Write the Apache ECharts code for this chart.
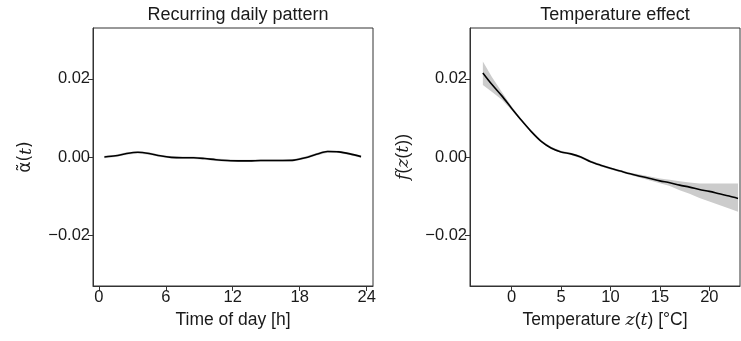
<!DOCTYPE html>
<html>
<head>
<meta charset="utf-8">
<script src="https://cdn.jsdelivr.net/npm/echarts@6/dist/echarts.min.js"></script>
<style>
  html, body { margin: 0; padding: 0; background: #fff; }
  #chart { width: 741px; height: 341px; }
</style>
</head>
<body>
<div id="chart"></div>
<script>
// 左图：每日周期 (hour of day)
var hours = [0.5, 1.5, 2.5, 3.5, 4.5, 5.5, 6.5, 7.5, 8.5, 9.5, 10.5, 11.5,
             12.5, 13.5, 14.5, 15.5, 16.5, 17.5, 18.5, 19.5, 20.5, 21.5, 22.5, 23.5];
var dailyFit = [0.0000, 0.0003, 0.0009, 0.0012, 0.0009, 0.0003, -0.0001, -0.0002,
                -0.0002, -0.0004, -0.0007, -0.0009, -0.0010, -0.0010, -0.0009, -0.0009,
                -0.0009, -0.0008, -0.0002, 0.0007, 0.0014, 0.0013, 0.0008, 0.0001];
var dailyLower = [-0.0003, 0.0000, 0.0006, 0.0009, 0.0006, 0.0000, -0.0004, -0.0005,
                  -0.0005, -0.0007, -0.0010, -0.0012, -0.0013, -0.0013, -0.0012, -0.0012,
                  -0.0012, -0.0011, -0.0005, 0.0004, 0.0011, 0.0010, 0.0005, -0.0002];
var dailyUpper = [0.0003, 0.0006, 0.0012, 0.0015, 0.0012, 0.0006, 0.0002, 0.0001,
                  0.0001, -0.0001, -0.0004, -0.0006, -0.0007, -0.0007, -0.0006, -0.0006,
                  -0.0006, -0.0005, 0.0001, 0.0010, 0.0017, 0.0016, 0.0011, 0.0004];

// 右图：温度效应
var temps = [-2.9, -2, -1, 0, 1, 2, 3, 4, 5, 6, 7, 8, 9, 10, 11, 12, 13,
             14, 15, 16, 17, 18, 19, 20, 21, 22, 22.9];
var tempFit = [0.0215, 0.0186, 0.0157, 0.0125, 0.0094, 0.0065, 0.0040, 0.0023, 0.0013,
               0.0008, 0.0000, -0.0012, -0.0021, -0.0029, -0.0036, -0.0043, -0.0049,
               -0.0055, -0.0061, -0.0066, -0.0072, -0.0077, -0.0083, -0.0088, -0.0094,
               -0.0100, -0.0106];
var tempLower = [0.0184, 0.0167, 0.0147, 0.0120, 0.0091, 0.0062, 0.0037, 0.0020, 0.0010,
                 0.0005, -0.0003, -0.0015, -0.0024, -0.0032, -0.0039, -0.0046, -0.0053,
                 -0.0060, -0.0067, -0.0074, -0.0085, -0.0094, -0.0105, -0.0114, -0.0123,
                 -0.0132, -0.0140];
var tempUpper = [0.0244, 0.0205, 0.0167, 0.0130, 0.0097, 0.0068, 0.0043, 0.0026, 0.0016,
                 0.0011, 0.0003, -0.0009, -0.0018, -0.0026, -0.0033, -0.0040, -0.0045,
                 -0.0050, -0.0055, -0.0058, -0.0062, -0.0065, -0.0068, -0.0068, -0.0068,
                 -0.0068, -0.0068];

var yTicks = [-0.02, 0, 0.02];
var hourTicks = [0, 6, 12, 18, 24];
var tempTicks = [0, 5, 10, 15, 20];

var FONT = 'Liberation Sans, Arial, sans-serif';
var INK = '#1a1a1a';
var BAND = '#cccccc';

function pairs(xs, ys) {
  return xs.map(function (x, i) { return [x, ys[i]]; });
}
function fmtY(v) {
  if (Math.abs(v) < 1e-9) return '0.00';
  return (v < 0 ? '\u2212' : '') + Math.abs(v).toFixed(2);
}

var nameStyle = {
  fontFamily: FONT, fontSize: 17.5, color: INK,
  rich: {
    n: { fontFamily: FONT, fontSize: 17.5, color: INK },
    g: { fontFamily: 'DejaVu Sans', fontSize: 17, color: INK },
    i: { fontFamily: 'DejaVu Serif', fontStyle: 'italic', fontSize: 17.5, color: INK }
  }
};

function xAxis(idx, min, max, ticks, name) {
  return {
    type: 'value', gridIndex: idx, min: min, max: max,
    name: name, nameLocation: 'middle', nameGap: 25, nameTextStyle: nameStyle,
    axisLine: { show: true, onZero: false, lineStyle: { color: '#333', width: 1 } },
    axisTick: { show: true, length: 5, customValues: ticks, lineStyle: { color: '#333' } },
    axisLabel: { customValues: ticks, margin: 3, fontFamily: FONT, fontSize: 16.5, color: INK },
    splitLine: { show: false }
  };
}
function yAxis(idx, name) {
  return {
    type: 'value', gridIndex: idx, min: -0.033, max: 0.033,
    name: name, nameLocation: 'middle', nameGap: 58, nameRotate: 90, nameTextStyle: nameStyle,
    axisLine: { show: true, onZero: false, lineStyle: { color: '#333', width: 1 } },
    axisTick: { show: true, length: 5, customValues: yTicks, lineStyle: { color: '#333' } },
    axisLabel: { customValues: yTicks, margin: 3, formatter: fmtY,
                 fontFamily: FONT, fontSize: 16.5, color: INK },
    splitLine: { show: false }
  };
}

// 置信带：整条带画成一个多边形（坐标由轴换算）
function bandSeries(idx, xs, lo, hi) {
  return {
    type: 'custom', xAxisIndex: idx, yAxisIndex: idx, silent: true, z: 1,
    data: xs.map(function (x, i) { return [x, lo[i], hi[i]]; }),
    encode: { x: 0, y: [1, 2] },
    renderItem: function (params, api) {
      if (params.dataIndex !== 0) return null;
      var pts = [];
      for (var i = 0; i < xs.length; i++) pts.push(api.coord([xs[i], hi[i]]));
      for (var j = xs.length - 1; j >= 0; j--) pts.push(api.coord([xs[j], lo[j]]));
      return {
        type: 'polygon',
        shape: { points: pts },
        style: { fill: BAND, stroke: null }
      };
    }
  };
}
function fitSeries(idx, xs, ys) {
  return {
    type: 'line', xAxisIndex: idx, yAxisIndex: idx,
    data: pairs(xs, ys), symbol: 'none', smooth: 0.3,
    lineStyle: { color: '#000', width: 1.6 }, z: 3
  };
}

var chart = echarts.init(document.getElementById('chart'), null, { renderer: 'canvas' });
chart.setOption({
  animation: false,
  backgroundColor: '#fff',
  title: [
    { text: 'Recurring daily pattern', left: 233, top: 1, textAlign: 'center',
      textStyle: { fontFamily: FONT, fontSize: 18, fontWeight: 'normal', color: INK } },
    { text: 'Temperature effect', left: 610, top: 1, textAlign: 'center',
      textStyle: { fontFamily: FONT, fontSize: 18, fontWeight: 'normal', color: INK } }
  ],
  grid: [
    { left: 93, top: 28, width: 280, height: 258, show: true,
      borderColor: '#333', borderWidth: 1, backgroundColor: 'transparent' },
    { left: 470, top: 28, width: 270, height: 258, show: true,
      borderColor: '#333', borderWidth: 1, backgroundColor: 'transparent' }
  ],
  xAxis: [
    xAxis(0, -0.52, 24.57, hourTicks, 'Time of day [h]'),
    xAxis(1, -4.2, 23.1, tempTicks, '{n|Temperature }{i|z}{n|(}{i|t}{n|) [°C]}')
  ],
  yAxis: [
    yAxis(0, '{g|\u1FB6(}{i|t}{g|)}'),
    yAxis(1, '{i|f}{n|(}{i|z}{n|(}{i|t}{n|))}')
  ],
  series: [
    bandSeries(0, hours, dailyLower, dailyUpper),
    fitSeries(0, hours, dailyFit),
    bandSeries(1, temps, tempLower, tempUpper),
    fitSeries(1, temps, tempFit)
  ]
});
</script>
</body>
</html>
